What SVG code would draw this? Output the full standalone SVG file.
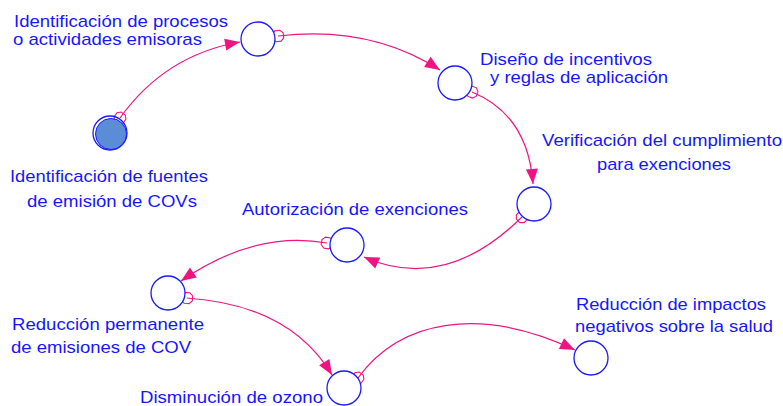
<svg xmlns="http://www.w3.org/2000/svg" width="783" height="406" viewBox="0 0 783 406">
<style>
  text { font-family: "Liberation Sans", Arial, sans-serif; font-size: 17px; fill: #1616ff; }
  .node { fill: #ffffff; stroke: #1a1aff; stroke-width: 1.3; }
  .link { fill: none; stroke: #ee1582; stroke-width: 1.2; marker-start: url(#tail); marker-end: url(#head); }
</style>
<defs>
  <marker id="head" markerUnits="userSpaceOnUse" viewBox="-16 -8 17 16" refX="0" refY="0" markerWidth="17" markerHeight="16" orient="auto">
    <path d="M0,0 L-15,-6 L-15,6 Z" fill="#ee1582"/>
  </marker>
  <marker id="tail" markerUnits="userSpaceOnUse" viewBox="-7 -7 14 14" refX="0" refY="0" markerWidth="14" markerHeight="14" orient="auto">
    <path d="M-2.5,-5.5 L2.5,-5.5 L5.5,-2.5 L5.5,2.5 L2.5,5.5 L-2.5,5.5 L-5.5,2.5 L-5.5,-2.5 Z" fill="none" stroke="#ee1582" stroke-width="1.1"/>
  </marker>
</defs>

<g id="connectors">
  <path class="link" d="M120,118 Q165,55 240,42"/>
  <path class="link" d="M278,36 Q370,25 440,70"/>
  <path class="link" d="M472,92 Q528,115 533,184"/>
  <path class="link" d="M522,217 Q445,293 364,257"/>
  <path class="link" d="M327,243 Q255,230 181,281"/>
  <path class="link" d="M187,298 Q290,305 332,375"/>
  <path class="link" d="M358,378 C400,320 480,305 575,350"/>
</g>

<g id="n1">
  <circle cx="110" cy="133" r="17" fill="none" stroke="#1a1aff" stroke-width="1.3"/>
  <circle cx="111" cy="134" r="15.5" fill="#5b8dd6" stroke="#1a1aff" stroke-width="1"/>
  <text x="10" y="182" textLength="198" lengthAdjust="spacingAndGlyphs">Identificación de fuentes</text>
  <text x="27" y="207" textLength="170" lengthAdjust="spacingAndGlyphs">de emisión de COVs</text>
</g>
<g id="n2">
  <circle class="node" cx="258" cy="39" r="17"/>
  <text x="14" y="27" textLength="214" lengthAdjust="spacingAndGlyphs">Identificación de procesos</text>
  <text x="13" y="45" textLength="189" lengthAdjust="spacingAndGlyphs">o actividades emisoras</text>
</g>
<g id="n3">
  <circle class="node" cx="455" cy="83" r="17"/>
  <text x="480" y="65" textLength="172" lengthAdjust="spacingAndGlyphs">Diseño de incentivos</text>
  <text x="490" y="83" textLength="178" lengthAdjust="spacingAndGlyphs">y reglas de aplicación</text>
</g>
<g id="n4">
  <circle class="node" cx="534" cy="204" r="17"/>
  <text x="542" y="146" textLength="240" lengthAdjust="spacingAndGlyphs">Verificación del cumplimiento</text>
  <text x="597" y="170" textLength="134" lengthAdjust="spacingAndGlyphs">para exenciones</text>
</g>
<g id="n5">
  <circle class="node" cx="347" cy="245" r="17"/>
  <text x="242" y="215" textLength="226" lengthAdjust="spacingAndGlyphs">Autorización de exenciones</text>
</g>
<g id="n6">
  <circle class="node" cx="168" cy="293" r="17"/>
  <text x="12" y="330" textLength="192" lengthAdjust="spacingAndGlyphs">Reducción permanente</text>
  <text x="11" y="353" textLength="180" lengthAdjust="spacingAndGlyphs">de emisiones de COV</text>
</g>
<g id="n7">
  <circle class="node" cx="344" cy="388" r="17"/>
  <text x="140" y="403" textLength="183" lengthAdjust="spacingAndGlyphs">Disminución de ozono</text>
</g>
<g id="n8">
  <circle class="node" cx="591" cy="358" r="17"/>
  <text x="576" y="310" textLength="190" lengthAdjust="spacingAndGlyphs">Reducción de impactos</text>
  <text x="575" y="332" textLength="198" lengthAdjust="spacingAndGlyphs">negativos sobre la salud</text>
</g>
</svg>
